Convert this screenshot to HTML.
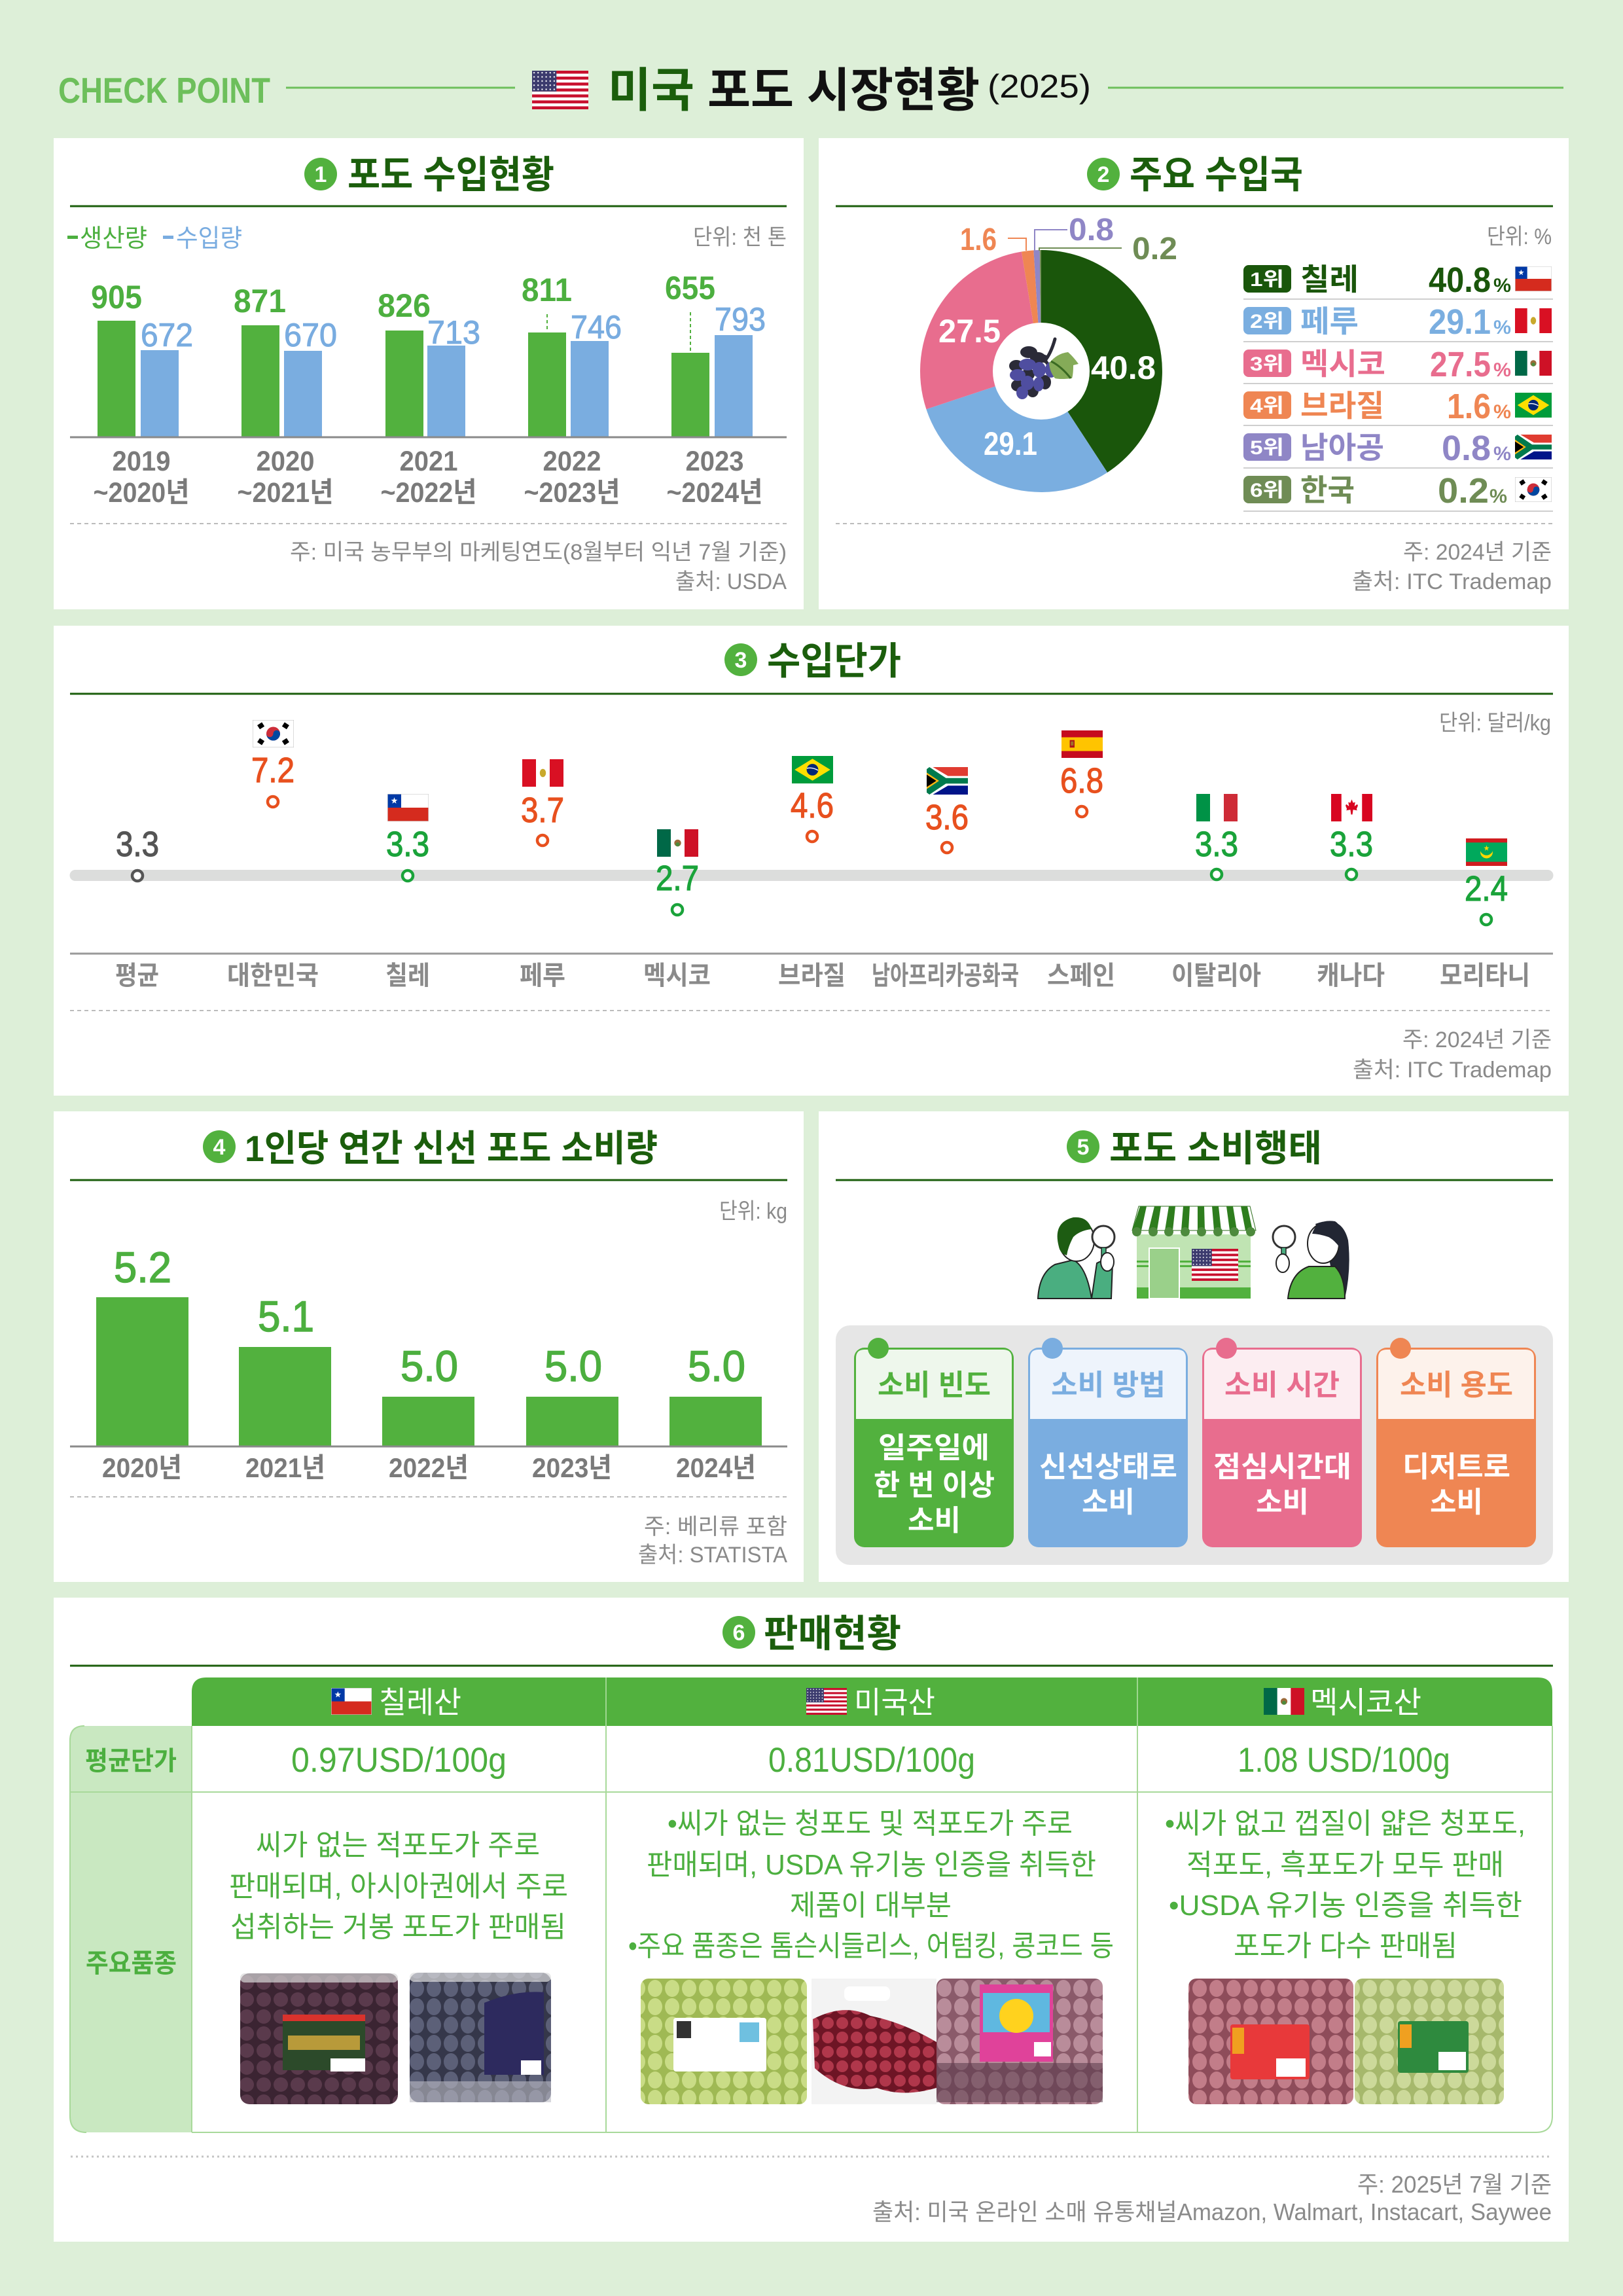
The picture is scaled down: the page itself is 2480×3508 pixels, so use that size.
<!DOCTYPE html>
<html><head><meta charset="utf-8"><style>
html,body{margin:0;padding:0;background:#ddefd8;}
svg{display:block;}
text{font-family:"Liberation Sans","Noto Sans CJK KR",sans-serif;}
.b{font-weight:700;}
</style></head><body>
<svg width="2480" height="3508" viewBox="0 0 2480 3508" xmlns="http://www.w3.org/2000/svg">
<defs>
<pattern id="stars" width="4.3" height="4.3" patternUnits="userSpaceOnUse"><circle cx="2.15" cy="2.15" r="0.8" fill="#fff"/></pattern>
<symbol id="fUS" viewBox="0 0 60 40" preserveAspectRatio="none">
<rect width="60" height="40" fill="#fff"/>
<g fill="#c8102e"><rect y="0" width="60" height="3.08"/><rect y="6.15" width="60" height="3.08"/><rect y="12.3" width="60" height="3.08"/><rect y="18.46" width="60" height="3.08"/><rect y="24.6" width="60" height="3.08"/><rect y="30.77" width="60" height="3.08"/><rect y="36.92" width="60" height="3.08"/></g>
<rect width="26" height="21.5" fill="#3c3b6e"/><rect width="26" height="21.5" fill="url(#stars)"/>
</symbol>
<symbol id="fCL" viewBox="0 0 60 40" preserveAspectRatio="none">
<rect width="60" height="20" fill="#fff"/><rect y="20" width="60" height="20" fill="#d52b1e"/><rect width="20" height="20" fill="#0039a6"/>
<polygon points="10,5 11.18,8.38 14.76,8.45 11.9,10.62 12.94,14.05 10,12 7.06,14.05 8.1,10.62 5.24,8.45 8.82,8.38" fill="#fff"/>
<rect x="0.3" y="0.3" width="59.4" height="39.4" fill="none" stroke="#ccc" stroke-width="0.6"/>
</symbol>
<symbol id="fPE" viewBox="0 0 60 40" preserveAspectRatio="none">
<rect width="60" height="40" fill="#fff"/><rect width="20" height="40" fill="#d91023"/><rect x="40" width="20" height="40" fill="#d91023"/><ellipse cx="30" cy="20" rx="4.5" ry="6" fill="#c9a92c"/>
</symbol>
<symbol id="fMX" viewBox="0 0 60 40" preserveAspectRatio="none">
<rect width="60" height="40" fill="#fff"/><rect width="20" height="40" fill="#006847"/><rect x="40" width="20" height="40" fill="#ce1126"/><circle cx="30" cy="20" r="5" fill="#9a6b3a"/><circle cx="30" cy="22" r="3" fill="#4c8a3c"/>
</symbol>
<symbol id="fBR" viewBox="0 0 60 40" preserveAspectRatio="none">
<rect width="60" height="40" fill="#009c3b"/><polygon points="30,4 56,20 30,36 4,20" fill="#fedf00"/><circle cx="30" cy="20" r="8.5" fill="#002776"/><path d="M21.8,18 Q30,16 38.2,21" stroke="#fff" stroke-width="1.4" fill="none"/>
</symbol>
<symbol id="fZA" viewBox="0 0 60 40" preserveAspectRatio="none">
<rect width="60" height="20" fill="#e03c31"/><rect y="20" width="60" height="20" fill="#001489"/>
<polygon points="0,0 9,0 31,13 60,13 60,27 31,27 9,40 0,40" fill="#fff"/>
<polygon points="0,3 4,0 28,16 60,16 60,24 28,24 4,40 0,37" fill="#007a4d"/>
<polygon points="0,8 18,20 0,32" fill="#ffb612"/><polygon points="0,11 14,20 0,29" fill="#000"/>
</symbol>
<symbol id="fKR" viewBox="0 0 60 40" preserveAspectRatio="none">
<rect width="60" height="40" fill="#fff" stroke="#bbb" stroke-width="1"/>
<circle cx="30" cy="20" r="10" fill="#cd2e3a"/><path d="M20,20 A10,10 0 0 0 40,20 Z" fill="#0047a0"/><circle cx="25" cy="20" r="5" fill="#cd2e3a"/><circle cx="35" cy="20" r="5" fill="#0047a0"/>
<g fill="#000"><rect x="8" y="5" width="8" height="7" transform="rotate(-33 12 8.5)"/><rect x="44" y="5" width="8" height="7" transform="rotate(33 48 8.5)"/><rect x="8" y="28" width="8" height="7" transform="rotate(33 12 31.5)"/><rect x="44" y="28" width="8" height="7" transform="rotate(-33 48 31.5)"/></g>
</symbol>
<symbol id="fES" viewBox="0 0 60 40" preserveAspectRatio="none">
<rect width="60" height="40" fill="#c60b1e"/><rect y="10" width="60" height="20" fill="#ffc400"/><rect x="12" y="14" width="7" height="11" fill="#ad1519"/><rect x="13.5" y="16" width="4" height="6" fill="#a0702a"/>
</symbol>
<symbol id="fIT" viewBox="0 0 60 40" preserveAspectRatio="none">
<rect width="60" height="40" fill="#fff"/><rect width="20" height="40" fill="#009246"/><rect x="40" width="20" height="40" fill="#ce2b37"/>
</symbol>
<symbol id="fCA" viewBox="0 0 60 40" preserveAspectRatio="none">
<rect width="60" height="40" fill="#fff"/><rect width="15" height="40" fill="#d80621"/><rect x="45" width="15" height="40" fill="#d80621"/>
<polygon points="30,8 32,13 35,12 34,18 38,15 39,17 37,22 38,24 32,23 31,30 29,30 28,23 22,24 23,22 21,17 22,15 26,18 25,12 28,13" fill="#d80621"/>
</symbol>
<symbol id="fMR" viewBox="0 0 60 40" preserveAspectRatio="none">
<rect width="60" height="40" fill="#d01c1f"/><rect y="6" width="60" height="28" fill="#00a95c"/><circle cx="30" cy="20" r="9" fill="#ffd700"/><circle cx="30" cy="15" r="9.5" fill="#00a95c"/>
<polygon points="30,10 31,13 34,13 31.5,15 32.5,18 30,16 27.5,18 28.5,15 26,13 29,13" fill="#ffd700"/>
</symbol>
<pattern id="pDark" width="26" height="26" patternUnits="userSpaceOnUse"><rect width="26" height="26" fill="#3b2432"/><circle cx="13" cy="13" r="11" fill="#5a3a4c"/></pattern>
<pattern id="pBlue" width="26" height="28" patternUnits="userSpaceOnUse"><rect width="26" height="28" fill="#35374a"/><ellipse cx="13" cy="14" rx="11" ry="13" fill="#5c6078"/></pattern>
<pattern id="pGreen" width="26" height="28" patternUnits="userSpaceOnUse"><rect width="26" height="28" fill="#9fb954"/><ellipse cx="13" cy="14" rx="11" ry="13" fill="#c9dc86"/></pattern>
<pattern id="pPink" width="26" height="28" patternUnits="userSpaceOnUse"><rect width="26" height="28" fill="#8a5a6a"/><ellipse cx="13" cy="14" rx="11" ry="13" fill="#b98c9a"/></pattern>
<pattern id="pRed" width="26" height="28" patternUnits="userSpaceOnUse"><rect width="26" height="28" fill="#8e4c5a"/><ellipse cx="13" cy="14" rx="11" ry="13" fill="#c27d89"/></pattern>
<pattern id="pPale" width="26" height="28" patternUnits="userSpaceOnUse"><rect width="26" height="28" fill="#a6b86c"/><ellipse cx="13" cy="14" rx="11" ry="13" fill="#ccd99a"/></pattern>
<pattern id="pBag" width="22" height="22" patternUnits="userSpaceOnUse"><rect width="22" height="22" fill="#6e1525"/><circle cx="11" cy="11" r="9" fill="#b0374b"/></pattern>
</defs>

<rect width="2480" height="3508" fill="#ddefd8"/>

<!-- HEADER -->
<text x="89" y="157" font-size="55" class="b" fill="#6dbf5b" textLength="324" lengthAdjust="spacingAndGlyphs">CHECK POINT</text>
<line x1="437" y1="134" x2="787" y2="134" stroke="#6dbf5b" stroke-width="3"/>
<use href="#fUS" x="813" y="108" width="86" height="59"/>
<text x="929" y="163" font-size="72" class="b" textLength="568" lengthAdjust="spacingAndGlyphs"><tspan fill="#1b5e0c">미국</tspan><tspan fill="#111"> 포도 시장현황</tspan></text>
<text x="1509" y="149" font-size="50" fill="#111" textLength="158" lengthAdjust="spacingAndGlyphs">(2025)</text>
<line x1="1693" y1="134" x2="2389" y2="134" stroke="#6dbf5b" stroke-width="3"/>

<!-- PANELS -->
<rect x="82" y="211" width="1146" height="720" fill="#fff"/>
<rect x="1251" y="211" width="1146" height="720" fill="#fff"/>
<rect x="82" y="956" width="2315" height="718" fill="#fff"/>
<rect x="82" y="1698" width="1146" height="719" fill="#fff"/>
<rect x="1251" y="1698" width="1146" height="719" fill="#fff"/>
<rect x="82" y="2441" width="2315" height="984" fill="#fff"/>

<!-- PANEL TITLES -->
<g>
<circle cx="490" cy="266" r="25" fill="#52b13e"/><text x="490" y="278" font-size="34" class="b" fill="#fff" text-anchor="middle">1</text>
<text x="531" y="287" font-size="58" class="b" fill="#1b5e0c" textLength="316" lengthAdjust="spacingAndGlyphs">포도 수입현황</text>
<line x1="107" y1="315" x2="1202" y2="315" stroke="#1b5e0c" stroke-width="3"/>

<circle cx="1686" cy="266" r="25" fill="#52b13e"/><text x="1686" y="278" font-size="34" class="b" fill="#fff" text-anchor="middle">2</text>
<text x="1726" y="287" font-size="58" class="b" fill="#1b5e0c" textLength="265" lengthAdjust="spacingAndGlyphs">주요 수입국</text>
<line x1="1277" y1="315" x2="2373" y2="315" stroke="#1b5e0c" stroke-width="3"/>

<circle cx="1132" cy="1008" r="25" fill="#52b13e"/><text x="1132" y="1020" font-size="34" class="b" fill="#fff" text-anchor="middle">3</text>
<text x="1172" y="1030" font-size="58" class="b" fill="#1b5e0c" textLength="205" lengthAdjust="spacingAndGlyphs">수입단가</text>
<line x1="107" y1="1060" x2="2373" y2="1060" stroke="#1b5e0c" stroke-width="3"/>

<circle cx="335" cy="1752" r="25" fill="#52b13e"/><text x="335" y="1764" font-size="34" class="b" fill="#fff" text-anchor="middle">4</text>
<text x="374" y="1774" font-size="56" class="b" fill="#1b5e0c" textLength="631" lengthAdjust="spacingAndGlyphs">1인당 연간 신선 포도 소비량</text>
<line x1="107" y1="1803" x2="1203" y2="1803" stroke="#1b5e0c" stroke-width="3"/>

<circle cx="1655" cy="1752" r="25" fill="#52b13e"/><text x="1655" y="1764" font-size="34" class="b" fill="#fff" text-anchor="middle">5</text>
<text x="1695" y="1774" font-size="56" class="b" fill="#1b5e0c" textLength="325" lengthAdjust="spacingAndGlyphs">포도 소비행태</text>
<line x1="1277" y1="1803" x2="2373" y2="1803" stroke="#1b5e0c" stroke-width="3"/>

<circle cx="1129" cy="2494" r="25" fill="#52b13e"/><text x="1129" y="2506" font-size="34" class="b" fill="#fff" text-anchor="middle">6</text>
<text x="1167" y="2516" font-size="58" class="b" fill="#1b5e0c" textLength="210" lengthAdjust="spacingAndGlyphs">판매현황</text>
<line x1="107" y1="2545" x2="2373" y2="2545" stroke="#1b5e0c" stroke-width="3"/>
</g>

<!-- SECTION 1 -->
<rect x="103" y="360" width="16" height="5" fill="#4caf3f"/>
<text x="122" y="377" font-size="38" fill="#4caf3f" textLength="103" lengthAdjust="spacingAndGlyphs">생산량</text>
<rect x="249" y="360" width="16" height="5" fill="#79ace0"/>
<text x="269" y="377" font-size="38" fill="#79ace0" textLength="101" lengthAdjust="spacingAndGlyphs">수입량</text>
<text x="1059" y="374" font-size="34" fill="#8a8a8a" textLength="143" lengthAdjust="spacingAndGlyphs">단위: 천 톤</text>

<g fill="#52b13e">
<rect x="149" y="490" width="58" height="178"/><rect x="369" y="497" width="58" height="171"/><rect x="589" y="505" width="58" height="163"/><rect x="807" y="508" width="58" height="160"/><rect x="1026" y="539" width="58" height="129"/>
</g>
<g fill="#7aade0">
<rect x="215" y="535" width="58" height="133"/><rect x="434" y="536" width="58" height="132"/><rect x="653" y="528" width="58" height="140"/><rect x="872" y="521" width="58" height="147"/><rect x="1092" y="512" width="58" height="156"/>
</g>
<line x1="107" y1="668" x2="1202" y2="668" stroke="#8a8a8a" stroke-width="3"/>
<line x1="836" y1="480" x2="836" y2="507" stroke="#52b13e" stroke-width="2" stroke-dasharray="5 4"/>
<line x1="1055" y1="477" x2="1055" y2="537" stroke="#52b13e" stroke-width="2" stroke-dasharray="5 4"/>
<g font-size="50" class="b" fill="#4caf3f">
<text x="139" y="471" textLength="78" lengthAdjust="spacingAndGlyphs">905</text>
<text x="357" y="477" textLength="80" lengthAdjust="spacingAndGlyphs">871</text>
<text x="577" y="484" textLength="81" lengthAdjust="spacingAndGlyphs">826</text>
<text x="797" y="460" textLength="77" lengthAdjust="spacingAndGlyphs">811</text>
<text x="1016" y="457" textLength="77" lengthAdjust="spacingAndGlyphs">655</text>
</g>
<g font-size="50" fill="#79ace0" stroke="#79ace0" stroke-width="1">
<text x="215" y="529" textLength="80" lengthAdjust="spacingAndGlyphs">672</text>
<text x="434" y="529" textLength="81" lengthAdjust="spacingAndGlyphs">670</text>
<text x="653" y="525" textLength="81" lengthAdjust="spacingAndGlyphs">713</text>
<text x="872" y="517" textLength="78" lengthAdjust="spacingAndGlyphs">746</text>
<text x="1092" y="505" textLength="78" lengthAdjust="spacingAndGlyphs">793</text>
</g>
<g font-size="43" class="b" fill="#7a7a7a">
<text x="171.5" y="719" textLength="89" lengthAdjust="spacingAndGlyphs">2019</text>
<text x="391.5" y="719" textLength="89" lengthAdjust="spacingAndGlyphs">2020</text>
<text x="610.5" y="719" textLength="89" lengthAdjust="spacingAndGlyphs">2021</text>
<text x="829.5" y="719" textLength="89" lengthAdjust="spacingAndGlyphs">2022</text>
<text x="1047.5" y="719" textLength="89" lengthAdjust="spacingAndGlyphs">2023</text>
<text x="142.5" y="767" textLength="147" lengthAdjust="spacingAndGlyphs">~2020년</text>
<text x="362.5" y="767" textLength="147" lengthAdjust="spacingAndGlyphs">~2021년</text>
<text x="581.5" y="767" textLength="147" lengthAdjust="spacingAndGlyphs">~2022년</text>
<text x="800.5" y="767" textLength="147" lengthAdjust="spacingAndGlyphs">~2023년</text>
<text x="1018.5" y="767" textLength="147" lengthAdjust="spacingAndGlyphs">~2024년</text>
</g>
<line x1="107" y1="800" x2="1202" y2="800" stroke="#bbb" stroke-width="2" stroke-dasharray="6 5"/>
<text x="443" y="855" font-size="34" fill="#8a8a8a" textLength="759" lengthAdjust="spacingAndGlyphs">주: 미국 농무부의 마케팅연도(8월부터 익년 7월 기준)</text>
<text x="1032" y="900" font-size="34" fill="#8a8a8a" textLength="170" lengthAdjust="spacingAndGlyphs">출처: USDA</text>

<!-- SECTION 2 -->
<path d="M1591,567 L1591,382 A185,185 0 0 1 1692.1,721.9 Z" fill="#1a560b"/>
<path d="M1591,567 L1692.1,721.9 A185,185 0 0 1 1415.4,625.3 Z" fill="#7aaee0"/>
<path d="M1591,567 L1415.4,625.3 A185,185 0 0 1 1560.9,384.5 Z" fill="#e86d8e"/>
<path d="M1591,567 L1560.9,384.5 A185,185 0 0 1 1579.4,382.4 Z" fill="#ef8653"/>
<path d="M1591,567 L1579.4,382.4 A185,185 0 0 1 1588.7,382 Z" fill="#8f86c6"/>
<path d="M1591,567 L1588.7,382 A185,185 0 0 1 1591,382 Z" fill="#6f8c55"/>
<circle cx="1591" cy="567" r="74" fill="#fff"/>
<!-- grape icon -->
<path d="M1612,518 Q1606,540 1596,552 M1600,546 Q1585,540 1572,538 M1598,552 Q1604,560 1606,566" stroke="#2b2b38" stroke-width="5" fill="none" stroke-linecap="round"/>
<g fill="#2b2b38">
<ellipse cx="1572" cy="538" rx="13" ry="9"/><ellipse cx="1586" cy="547" rx="12" ry="9"/><ellipse cx="1553" cy="559" rx="11" ry="9"/><ellipse cx="1555" cy="589" rx="10" ry="9"/><ellipse cx="1578" cy="597" rx="9" ry="10"/><ellipse cx="1597" cy="584" rx="9" ry="11"/><ellipse cx="1571" cy="572" rx="10" ry="9"/>
</g>
<g fill="#4f4ea0">
<ellipse cx="1570" cy="557" rx="13" ry="9"/><ellipse cx="1555" cy="573" rx="12" ry="9"/><ellipse cx="1588" cy="565" rx="10" ry="12"/><ellipse cx="1606" cy="565" rx="9" ry="12"/><ellipse cx="1570" cy="585" rx="10" ry="11"/><ellipse cx="1587" cy="587" rx="8" ry="11"/><ellipse cx="1562" cy="600" rx="9" ry="10"/>
</g>
<path d="M1603,555 Q1615,540 1632,538 Q1640,545 1648,556 L1640,558 Q1640,572 1638,578 Q1620,580 1612,578 Q1604,568 1603,555 Z" fill="#85ab58"/>
<path d="M1606,552 Q1622,560 1636,578" stroke="#3a6a22" stroke-width="3" fill="none"/>
<g font-size="50" class="b" fill="#fff">
<text x="1667" y="579" textLength="99" lengthAdjust="spacingAndGlyphs">40.8</text>
<text x="1503" y="695" textLength="82" lengthAdjust="spacingAndGlyphs">29.1</text>
<text x="1434" y="523" textLength="95" lengthAdjust="spacingAndGlyphs">27.5</text>
</g>
<polyline points="1540,364 1568,364 1568,383" fill="none" stroke="#ef8653" stroke-width="2"/>
<polyline points="1631,351 1581,351 1581,383" fill="none" stroke="#8f86c6" stroke-width="2"/>
<polyline points="1714,379 1588,379 1588,383" fill="none" stroke="#6f8c55" stroke-width="2"/>
<text x="1467" y="382" font-size="48" class="b" fill="#ef8653" textLength="56" lengthAdjust="spacingAndGlyphs">1.6</text>
<text x="1633" y="367" font-size="48" class="b" fill="#8f86c6" textLength="69" lengthAdjust="spacingAndGlyphs">0.8</text>
<text x="1730" y="396" font-size="48" class="b" fill="#6f8c55" textLength="69" lengthAdjust="spacingAndGlyphs">0.2</text>

<text x="2272" y="373" font-size="34" fill="#8a8a8a" textLength="99" lengthAdjust="spacingAndGlyphs">단위: %</text>
<g stroke="#cfcfcf" stroke-width="2">
<line x1="1900" y1="457" x2="2373" y2="457"/><line x1="1900" y1="522" x2="2373" y2="522"/><line x1="1900" y1="586" x2="2373" y2="586"/><line x1="1900" y1="650" x2="2373" y2="650"/><line x1="1900" y1="715" x2="2373" y2="715"/><line x1="1900" y1="781" x2="2373" y2="781"/>
</g>
<!-- rows -->
<g>
<rect x="1900" y="405" width="73" height="42" rx="8" fill="#1a560b"/><text x="1910" y="437" font-size="30" class="b" fill="#fff" textLength="52" lengthAdjust="spacingAndGlyphs">1위</text>
<text x="1987" y="443" font-size="46" class="b" fill="#1a560b" textLength="89" lengthAdjust="spacingAndGlyphs">칠레</text>
<text x="2183" y="446" font-size="54" class="b" fill="#1a560b" textLength="95" lengthAdjust="spacingAndGlyphs">40.8</text><text x="2282" y="446" font-size="30" class="b" fill="#1a560b" textLength="27" lengthAdjust="spacingAndGlyphs">%</text>
<use href="#fCL" x="2315" y="407" width="56" height="38"/>

<rect x="1900" y="469" width="73" height="42" rx="8" fill="#7aaee0"/><text x="1910" y="501" font-size="30" class="b" fill="#fff" textLength="52" lengthAdjust="spacingAndGlyphs">2위</text>
<text x="1987" y="507" font-size="46" class="b" fill="#7aaee0" textLength="89" lengthAdjust="spacingAndGlyphs">페루</text>
<text x="2183" y="510" font-size="54" class="b" fill="#7aaee0" textLength="95" lengthAdjust="spacingAndGlyphs">29.1</text><text x="2282" y="510" font-size="30" class="b" fill="#7aaee0" textLength="27" lengthAdjust="spacingAndGlyphs">%</text>
<use href="#fPE" x="2315" y="471" width="56" height="38"/>

<rect x="1900" y="534" width="73" height="42" rx="8" fill="#e86d8e"/><text x="1910" y="566" font-size="30" class="b" fill="#fff" textLength="52" lengthAdjust="spacingAndGlyphs">3위</text>
<text x="1987" y="572" font-size="46" class="b" fill="#e86d8e" textLength="130" lengthAdjust="spacingAndGlyphs">멕시코</text>
<text x="2185" y="575" font-size="54" class="b" fill="#e86d8e" textLength="93" lengthAdjust="spacingAndGlyphs">27.5</text><text x="2282" y="575" font-size="30" class="b" fill="#e86d8e" textLength="27" lengthAdjust="spacingAndGlyphs">%</text>
<use href="#fMX" x="2315" y="536" width="56" height="38"/>

<rect x="1900" y="598" width="73" height="42" rx="8" fill="#ef8653"/><text x="1910" y="630" font-size="30" class="b" fill="#fff" textLength="52" lengthAdjust="spacingAndGlyphs">4위</text>
<text x="1987" y="636" font-size="46" class="b" fill="#ef8653" textLength="128" lengthAdjust="spacingAndGlyphs">브라질</text>
<text x="2211" y="639" font-size="54" class="b" fill="#ef8653" textLength="67" lengthAdjust="spacingAndGlyphs">1.6</text><text x="2282" y="639" font-size="30" class="b" fill="#ef8653" textLength="27" lengthAdjust="spacingAndGlyphs">%</text>
<use href="#fBR" x="2315" y="600" width="56" height="38"/>

<rect x="1900" y="662" width="73" height="42" rx="8" fill="#8f86c6"/><text x="1910" y="694" font-size="30" class="b" fill="#fff" textLength="52" lengthAdjust="spacingAndGlyphs">5위</text>
<text x="1987" y="700" font-size="46" class="b" fill="#8f86c6" textLength="128" lengthAdjust="spacingAndGlyphs">남아공</text>
<text x="2203" y="703" font-size="54" class="b" fill="#8f86c6" textLength="75" lengthAdjust="spacingAndGlyphs">0.8</text><text x="2282" y="703" font-size="30" class="b" fill="#8f86c6" textLength="27" lengthAdjust="spacingAndGlyphs">%</text>
<use href="#fZA" x="2315" y="664" width="56" height="38"/>

<rect x="1900" y="727" width="73" height="42" rx="8" fill="#6f8c55"/><text x="1910" y="759" font-size="30" class="b" fill="#fff" textLength="52" lengthAdjust="spacingAndGlyphs">6위</text>
<text x="1987" y="765" font-size="46" class="b" fill="#6f8c55" textLength="83" lengthAdjust="spacingAndGlyphs">한국</text>
<text x="2197" y="768" font-size="54" class="b" fill="#6f8c55" textLength="78" lengthAdjust="spacingAndGlyphs">0.2</text><text x="2276" y="768" font-size="30" class="b" fill="#6f8c55" textLength="27" lengthAdjust="spacingAndGlyphs">%</text>
<use href="#fKR" x="2315" y="729" width="56" height="38"/>
</g>
<line x1="1277" y1="800" x2="2373" y2="800" stroke="#bbb" stroke-width="2" stroke-dasharray="6 5"/>
<text x="2144" y="855" font-size="34" fill="#8a8a8a" textLength="227" lengthAdjust="spacingAndGlyphs">주: 2024년 기준</text>
<text x="2066" y="900" font-size="34" fill="#8a8a8a" textLength="305" lengthAdjust="spacingAndGlyphs">출처: ITC Trademap</text>

<!-- SECTION 3 -->
<text x="2199" y="1116" font-size="34" fill="#8a8a8a" textLength="171" lengthAdjust="spacingAndGlyphs">단위: 달러/kg</text>
<line x1="115" y1="1337.5" x2="2365" y2="1337.5" stroke="#dcdddc" stroke-width="17" stroke-linecap="round"/>
<line x1="107" y1="1457" x2="2373" y2="1457" stroke="#9a9a9a" stroke-width="3"/>
<g>
<use href="#fKR" x="386" y="1100" width="63" height="42"/>
<use href="#fCL" x="592" y="1213" width="63" height="42"/>
<use href="#fPE" x="798" y="1160" width="63" height="42"/>
<use href="#fMX" x="1004" y="1267" width="63" height="42"/>
<use href="#fBR" x="1210" y="1155" width="63" height="42"/>
<use href="#fZA" x="1416" y="1172" width="63" height="42"/>
<use href="#fES" x="1622" y="1116" width="63" height="42"/>
<use href="#fIT" x="1828" y="1213" width="63" height="42"/>
<use href="#fCA" x="2034" y="1213" width="63" height="42"/>
<use href="#fMR" x="2240" y="1281" width="63" height="42"/>
</g>
<g font-size="54">
<text x="177" y="1308" fill="#555" stroke="#555" stroke-width="1.2" textLength="66" lengthAdjust="spacingAndGlyphs">3.3</text>
<text x="384" y="1195" fill="#e8501e" stroke="#e8501e" stroke-width="1.2" textLength="66" lengthAdjust="spacingAndGlyphs">7.2</text>
<text x="590" y="1308" fill="#1aa33a" stroke="#1aa33a" stroke-width="1.2" textLength="66" lengthAdjust="spacingAndGlyphs">3.3</text>
<text x="796" y="1256" fill="#e8501e" stroke="#e8501e" stroke-width="1.2" textLength="66" lengthAdjust="spacingAndGlyphs">3.7</text>
<text x="1002" y="1360" fill="#1aa33a" stroke="#1aa33a" stroke-width="1.2" textLength="66" lengthAdjust="spacingAndGlyphs">2.7</text>
<text x="1208" y="1249" fill="#e8501e" stroke="#e8501e" stroke-width="1.2" textLength="66" lengthAdjust="spacingAndGlyphs">4.6</text>
<text x="1414" y="1267" fill="#e8501e" stroke="#e8501e" stroke-width="1.2" textLength="66" lengthAdjust="spacingAndGlyphs">3.6</text>
<text x="1620" y="1211" fill="#e8501e" stroke="#e8501e" stroke-width="1.2" textLength="66" lengthAdjust="spacingAndGlyphs">6.8</text>
<text x="1826" y="1308" fill="#1aa33a" stroke="#1aa33a" stroke-width="1.2" textLength="66" lengthAdjust="spacingAndGlyphs">3.3</text>
<text x="2032" y="1308" fill="#1aa33a" stroke="#1aa33a" stroke-width="1.2" textLength="66" lengthAdjust="spacingAndGlyphs">3.3</text>
<text x="2238" y="1376" fill="#1aa33a" stroke="#1aa33a" stroke-width="1.2" textLength="66" lengthAdjust="spacingAndGlyphs">2.4</text>
</g>
<g fill="#fff" stroke-width="4.5">
<circle cx="210" cy="1338" r="8" stroke="#555"/>
<circle cx="417" cy="1225" r="8" stroke="#e8501e"/>
<circle cx="623" cy="1338" r="8" stroke="#1aa33a"/>
<circle cx="829" cy="1284" r="8" stroke="#e8501e"/>
<circle cx="1035" cy="1390" r="8" stroke="#1aa33a"/>
<circle cx="1241" cy="1278" r="8" stroke="#e8501e"/>
<circle cx="1447" cy="1295" r="8" stroke="#e8501e"/>
<circle cx="1653" cy="1240" r="8" stroke="#e8501e"/>
<circle cx="1859" cy="1336" r="8" stroke="#1aa33a"/>
<circle cx="2065" cy="1336" r="8" stroke="#1aa33a"/>
<circle cx="2271" cy="1405" r="8" stroke="#1aa33a"/>
</g>
<g font-size="40" class="b" fill="#8a8a8a">
<text x="176" y="1504" textLength="67" lengthAdjust="spacingAndGlyphs">평균</text>
<text x="347" y="1504" textLength="140" lengthAdjust="spacingAndGlyphs">대한민국</text>
<text x="589" y="1504" textLength="68" lengthAdjust="spacingAndGlyphs">칠레</text>
<text x="794" y="1504" textLength="70" lengthAdjust="spacingAndGlyphs">페루</text>
<text x="983" y="1504" textLength="103" lengthAdjust="spacingAndGlyphs">멕시코</text>
<text x="1189" y="1504" textLength="103" lengthAdjust="spacingAndGlyphs">브라질</text>
<text x="1332" y="1504" textLength="225" lengthAdjust="spacingAndGlyphs">남아프리카공화국</text>
<text x="1600" y="1504" textLength="104" lengthAdjust="spacingAndGlyphs">스페인</text>
<text x="1790" y="1504" textLength="137" lengthAdjust="spacingAndGlyphs">이탈리아</text>
<text x="2012" y="1504" textLength="104" lengthAdjust="spacingAndGlyphs">캐나다</text>
<text x="2200" y="1504" textLength="138" lengthAdjust="spacingAndGlyphs">모리타니</text>
</g>
<line x1="107" y1="1544" x2="2373" y2="1544" stroke="#bbb" stroke-width="2" stroke-dasharray="6 5"/>
<text x="2143" y="1600" font-size="34" fill="#8a8a8a" textLength="228" lengthAdjust="spacingAndGlyphs">주: 2024년 기준</text>
<text x="2067" y="1646" font-size="34" fill="#8a8a8a" textLength="304" lengthAdjust="spacingAndGlyphs">출처: ITC Trademap</text>

<!-- SECTION 4 -->
<text x="1099" y="1862" font-size="34" fill="#8a8a8a" textLength="104" lengthAdjust="spacingAndGlyphs">단위: kg</text>
<g fill="#52b13e">
<rect x="147" y="1982" width="141" height="228"/><rect x="365" y="2058" width="141" height="152"/><rect x="584" y="2134" width="141" height="76"/><rect x="804" y="2134" width="141" height="76"/><rect x="1023" y="2134" width="141" height="76"/>
</g>
<line x1="107" y1="2210" x2="1203" y2="2210" stroke="#8a8a8a" stroke-width="3"/>
<g font-size="66" fill="#4caf3f" stroke="#4caf3f" stroke-width="1.5">
<text x="174" y="1959" textLength="88" lengthAdjust="spacingAndGlyphs">5.2</text>
<text x="394" y="2034" textLength="86" lengthAdjust="spacingAndGlyphs">5.1</text>
<text x="612" y="2110" textLength="88" lengthAdjust="spacingAndGlyphs">5.0</text>
<text x="832" y="2110" textLength="88" lengthAdjust="spacingAndGlyphs">5.0</text>
<text x="1051" y="2110" textLength="88" lengthAdjust="spacingAndGlyphs">5.0</text>
</g>
<g font-size="42" class="b" fill="#7a7a7a">
<text x="156" y="2257" textLength="122" lengthAdjust="spacingAndGlyphs">2020년</text>
<text x="375" y="2257" textLength="122" lengthAdjust="spacingAndGlyphs">2021년</text>
<text x="594" y="2257" textLength="122" lengthAdjust="spacingAndGlyphs">2022년</text>
<text x="813" y="2257" textLength="122" lengthAdjust="spacingAndGlyphs">2023년</text>
<text x="1033" y="2257" textLength="122" lengthAdjust="spacingAndGlyphs">2024년</text>
</g>
<line x1="107" y1="2287" x2="1203" y2="2287" stroke="#bbb" stroke-width="2" stroke-dasharray="6 5"/>
<text x="984" y="2344" font-size="34" fill="#8a8a8a" textLength="219" lengthAdjust="spacingAndGlyphs">주: 베리류 포함</text>
<text x="975" y="2387" font-size="34" fill="#8a8a8a" textLength="228" lengthAdjust="spacingAndGlyphs">출처: STATISTA</text>

<!-- SECTION 5 illustration -->
<g>
<!-- store -->
<rect x="1737" y="1886" width="174" height="98" fill="#c0e4b3"/>
<rect x="1737" y="1926" width="174" height="3" fill="#52b13e"/><rect x="1737" y="1933" width="174" height="3" fill="#52b13e"/>
<rect x="1737" y="1967" width="174" height="17" fill="#52b13e"/>
<rect x="1756" y="1907" width="46" height="77" fill="#9ad08a" stroke="#fff" stroke-width="2"/>
<use href="#fUS" x="1821" y="1908" width="71" height="49"/>
<polygon points="1740,1843 1910,1843 1919,1880 1730,1880" fill="#fff" stroke="#2e6e1e" stroke-width="1"/>
<g fill="#2e7d1e">
<polygon points="1742,1843 1752,1843 1744,1880 1730,1880"/>
<polygon points="1764,1843 1774,1843 1768,1880 1755,1880"/>
<polygon points="1786,1843 1796,1843 1792,1880 1780,1880"/>
<polygon points="1808,1843 1818,1843 1816,1880 1805,1880"/>
<polygon points="1830,1843 1840,1843 1841,1880 1830,1880"/>
<polygon points="1852,1843 1862,1843 1866,1880 1855,1880"/>
<polygon points="1874,1843 1884,1843 1890,1880 1879,1880"/>
<polygon points="1896,1843 1906,1843 1914,1880 1903,1880"/>
</g>
<g fill="#4d8a3d"><circle cx="1737" cy="1882" r="7"/><circle cx="1762" cy="1882" r="7"/><circle cx="1786" cy="1882" r="7"/><circle cx="1811" cy="1882" r="7"/><circle cx="1836" cy="1882" r="7"/><circle cx="1861" cy="1882" r="7"/><circle cx="1886" cy="1882" r="7"/><circle cx="1911" cy="1882" r="7"/></g>
<!-- left person -->
<path d="M1586,1984 Q1588,1945 1612,1932 L1640,1925 Q1660,1935 1668,1984 Z" fill="#4aae80" stroke="#222" stroke-width="2"/>
<path d="M1668,1984 L1676,1930 Q1690,1922 1700,1930 L1698,1984 Z" fill="#4aae80" stroke="#222" stroke-width="2"/>
<ellipse cx="1645" cy="1895" rx="27" ry="32" fill="#fff" stroke="#222" stroke-width="2"/>
<path d="M1618,1905 Q1608,1868 1640,1860 Q1662,1858 1668,1878 Q1650,1880 1640,1890 Q1632,1905 1630,1918 Q1620,1915 1618,1905 Z" fill="#1d5c12"/>
<circle cx="1686" cy="1890" r="17" fill="#fff" stroke="#333" stroke-width="3"/>
<rect x="1683" y="1906" width="7" height="14" fill="#4aae80" stroke="#222" stroke-width="1.5"/>
<ellipse cx="1692" cy="1928" rx="10" ry="14" fill="#fff" stroke="#222" stroke-width="2"/>
<!-- right person -->
<path d="M2010,1870 Q2050,1855 2060,1895 Q2065,1940 2055,1984 L2040,1984 Q2035,1940 2030,1920 Z" fill="#222633"/>
<path d="M1968,1984 Q1972,1945 2000,1935 L2040,1935 Q2055,1950 2055,1984 Z" fill="#52b13e" stroke="#222" stroke-width="2"/>
<ellipse cx="2022" cy="1900" rx="24" ry="30" fill="#fff" stroke="#222" stroke-width="2"/>
<path d="M2005,1885 Q2012,1862 2040,1866 Q2055,1875 2050,1910 Q2040,1895 2030,1890 Q2015,1885 2005,1885 Z" fill="#222633"/>
<circle cx="1962" cy="1890" r="17" fill="#fff" stroke="#333" stroke-width="3"/>
<rect x="1958" y="1906" width="7" height="14" fill="#4aae80" stroke="#222" stroke-width="1.5"/>
<ellipse cx="1960" cy="1930" rx="10" ry="14" fill="#fff" stroke="#222" stroke-width="2"/>
</g>
<rect x="1277" y="2025" width="1096" height="366" rx="22" fill="#e6e6e6"/>
<!-- cards -->
<g>
<rect x="1305" y="2059" width="244" height="305" rx="16" fill="#52b13e"/>
<path d="M1308,2168 V2075 Q1308,2062 1321,2062 H1533 Q1546,2062 1546,2075 V2168 Z" fill="#eef7ec"/>
<circle cx="1342" cy="2060" r="16" fill="#52b13e"/>
<rect x="1571" y="2059" width="244" height="305" rx="16" fill="#7aade0"/>
<path d="M1574,2168 V2075 Q1574,2062 1587,2062 H1799 Q1812,2062 1812,2075 V2168 Z" fill="#eef4fc"/>
<circle cx="1608" cy="2060" r="16" fill="#7aade0"/>
<rect x="1837" y="2059" width="244" height="305" rx="16" fill="#e86d8e"/>
<path d="M1840,2168 V2075 Q1840,2062 1853,2062 H2065 Q2078,2062 2078,2075 V2168 Z" fill="#fcedf1"/>
<circle cx="1874" cy="2060" r="16" fill="#e86d8e"/>
<rect x="2103" y="2059" width="244" height="305" rx="16" fill="#ef8653"/>
<path d="M2106,2168 V2075 Q2106,2062 2119,2062 H2331 Q2344,2062 2344,2075 V2168 Z" fill="#fdf2eb"/>
<circle cx="2140" cy="2060" r="16" fill="#ef8653"/>
</g>
<g font-size="44" class="b">
<text x="1341" y="2131" fill="#52b13e" textLength="173" lengthAdjust="spacingAndGlyphs">소비 빈도</text>
<text x="1606" y="2131" fill="#7aade0" textLength="175" lengthAdjust="spacingAndGlyphs">소비 방법</text>
<text x="1871" y="2131" fill="#e86d8e" textLength="176" lengthAdjust="spacingAndGlyphs">소비 시간</text>
<text x="2139" y="2131" fill="#ef8653" textLength="173" lengthAdjust="spacingAndGlyphs">소비 용도</text>
</g>
<g font-size="44" class="b" fill="#fff">
<text x="1342" y="2227" textLength="170" lengthAdjust="spacingAndGlyphs">일주일에</text>
<text x="1335" y="2284" textLength="185" lengthAdjust="spacingAndGlyphs">한 번 이상</text>
<text x="1387" y="2338" textLength="81" lengthAdjust="spacingAndGlyphs">소비</text>
<text x="1588" y="2256" textLength="211" lengthAdjust="spacingAndGlyphs">신선상태로</text>
<text x="1653" y="2310" textLength="81" lengthAdjust="spacingAndGlyphs">소비</text>
<text x="1854" y="2256" textLength="211" lengthAdjust="spacingAndGlyphs">점심시간대</text>
<text x="1919" y="2310" textLength="81" lengthAdjust="spacingAndGlyphs">소비</text>
<text x="2143" y="2256" textLength="165" lengthAdjust="spacingAndGlyphs">디저트로</text>
<text x="2185" y="2310" textLength="81" lengthAdjust="spacingAndGlyphs">소비</text>
</g>

<!-- SECTION 6 table -->
<path d="M293,2637 L293,2585 Q293,2563 315,2563 L2350,2563 Q2372,2563 2372,2585 L2372,2637 Z" fill="#52b13e"/>
<path d="M293,2637 L129,2637 Q107,2637 107,2659 L107,3233 Q107,3258 132,3258 L293,3258 Z" fill="#c9e8c1"/>
<g stroke="#a8d99a" stroke-width="2" fill="none">
<path d="M293,3258 L2347,3258 Q2372,3258 2372,3233 L2372,2637"/>
<path d="M129,2637 Q107,2637 107,2659 L107,3233 Q107,3258 132,3258"/>
<line x1="107" y1="2738" x2="2372" y2="2738"/>
<line x1="293" y1="2637" x2="293" y2="3258"/>
<line x1="926" y1="2637" x2="926" y2="3258"/>
<line x1="1738" y1="2637" x2="1738" y2="3258"/>
</g>
<line x1="926" y1="2563" x2="926" y2="2637" stroke="#9ed690" stroke-width="2"/>
<line x1="1738" y1="2563" x2="1738" y2="2637" stroke="#9ed690" stroke-width="2"/>
<use href="#fCL" x="506" y="2579" width="62" height="41"/>
<use href="#fUS" x="1232" y="2579" width="62" height="41"/>
<use href="#fMX" x="1931" y="2579" width="62" height="41"/>
<g font-size="46" fill="#fff">
<text x="579" y="2617" textLength="126" lengthAdjust="spacingAndGlyphs">칠레산</text>
<text x="1305" y="2617" textLength="124" lengthAdjust="spacingAndGlyphs">미국산</text>
<text x="2002" y="2617" textLength="170" lengthAdjust="spacingAndGlyphs">멕시코산</text>
</g>
<text x="130" y="2704" font-size="40" class="b" fill="#4caf3f" textLength="140" lengthAdjust="spacingAndGlyphs">평균단가</text>
<text x="131" y="3013" font-size="40" class="b" fill="#4caf3f" textLength="139" lengthAdjust="spacingAndGlyphs">주요품종</text>
<g font-size="53" fill="#4caf3f">
<text x="445" y="2707" textLength="329" lengthAdjust="spacingAndGlyphs">0.97USD/100g</text>
<text x="1174" y="2707" textLength="316" lengthAdjust="spacingAndGlyphs">0.81USD/100g</text>
<text x="1891" y="2707" textLength="325" lengthAdjust="spacingAndGlyphs">1.08 USD/100g</text>
</g>
<g font-size="44" fill="#4caf3f">
<text x="391" y="2834" textLength="434" lengthAdjust="spacingAndGlyphs">씨가 없는 적포도가 주로</text>
<text x="350" y="2897" textLength="518" lengthAdjust="spacingAndGlyphs">판매되며, 아시아권에서 주로</text>
<text x="352" y="2959" textLength="513" lengthAdjust="spacingAndGlyphs">섭취하는 거봉 포도가 판매됨</text>
<text x="1020" y="2801" textLength="619" lengthAdjust="spacingAndGlyphs">•씨가 없는 청포도 및 적포도가 주로</text>
<text x="988" y="2864" textLength="687" lengthAdjust="spacingAndGlyphs">판매되며, USDA 유기농 인증을 취득한</text>
<text x="1207" y="2926" textLength="247" lengthAdjust="spacingAndGlyphs">제품이 대부분</text>
<text x="960" y="2988" textLength="742" lengthAdjust="spacingAndGlyphs">•주요 품종은 톰슨시들리스, 어텀킹, 콩코드 등</text>
<text x="1780" y="2801" textLength="551" lengthAdjust="spacingAndGlyphs">•씨가 없고 껍질이 얇은 청포도,</text>
<text x="1813" y="2864" textLength="485" lengthAdjust="spacingAndGlyphs">적포도, 흑포도가 모두 판매</text>
<text x="1786" y="2926" textLength="540" lengthAdjust="spacingAndGlyphs">•USDA 유기농 인증을 취득한</text>
<text x="1885" y="2988" textLength="342" lengthAdjust="spacingAndGlyphs">포도가 다수 판매됨</text>
</g>

<!-- product images -->
<g>
<rect x="367" y="3015" width="241" height="200" rx="14" fill="url(#pDark)"/>
<rect x="367" y="3015" width="241" height="14" rx="7" fill="#d8d8d8" opacity="0.7"/>
<rect x="432" y="3078" width="126" height="85" fill="#2c4a2a"/>
<rect x="432" y="3078" width="126" height="10" fill="#d9322c"/>
<rect x="440" y="3110" width="110" height="22" fill="#b89a3a"/>
<rect x="505" y="3145" width="53" height="20" fill="#fff"/>

<rect x="626" y="3014" width="216" height="198" rx="14" fill="url(#pBlue)"/>
<rect x="626" y="3014" width="216" height="14" rx="7" fill="#e0e0e0" opacity="0.7"/>
<path d="M740,3060 Q790,3040 831,3044 L831,3170 L740,3170 Z" fill="#2d2a5e"/>
<rect x="796" y="3148" width="31" height="22" fill="#fff"/>
<rect x="626" y="3180" width="216" height="32" fill="#bdbdc4" opacity="0.6"/>

<rect x="979" y="3023" width="254" height="192" rx="12" fill="url(#pGreen)"/>
<rect x="1029" y="3083" width="142" height="82" rx="4" fill="#fff"/>
<rect x="1034" y="3088" width="22" height="26" fill="#333"/>
<rect x="1130" y="3090" width="30" height="30" fill="#4bb0d8" opacity="0.8"/>

<rect x="1240" y="3023" width="191" height="192" fill="#f3f3f3"/>
<rect x="1290" y="3035" width="70" height="22" rx="8" fill="#fff"/>
<path d="M1242,3085 Q1290,3060 1330,3080 Q1380,3090 1431,3120 L1431,3190 Q1380,3205 1340,3190 Q1290,3200 1245,3160 Z" fill="url(#pBag)"/>

<rect x="1431" y="3023" width="254" height="192" rx="12" fill="url(#pPink)"/>
<rect x="1497" y="3032" width="112" height="118" fill="#e0429a"/>
<rect x="1502" y="3045" width="102" height="60" fill="#5fb8e0"/>
<circle cx="1553" cy="3080" r="26" fill="#ffd21e"/>
<rect x="1580" y="3120" width="26" height="22" fill="#fff"/>
<rect x="1431" y="3152" width="254" height="60" fill="#5a3a4a" opacity="0.55"/>

<rect x="1816" y="3023" width="252" height="192" rx="12" fill="url(#pRed)"/>
<rect x="1880" y="3093" width="121" height="84" rx="4" fill="#e8393a"/>
<rect x="1883" y="3098" width="18" height="40" fill="#f0a020"/>
<rect x="1950" y="3145" width="45" height="28" fill="#fff"/>

<rect x="2070" y="3023" width="228" height="192" rx="12" fill="url(#pPale)"/>
<rect x="2136" y="3088" width="108" height="79" rx="4" fill="#2e8a3e"/>
<rect x="2139" y="3093" width="18" height="36" fill="#f0a020"/>
<rect x="2198" y="3135" width="42" height="28" fill="#fff"/>
</g>

<line x1="108" y1="3295" x2="2372" y2="3295" stroke="#c4c4c4" stroke-width="3" stroke-dasharray="3 5"/>
<text x="2074" y="3350" font-size="36" fill="#8a8a8a" textLength="297" lengthAdjust="spacingAndGlyphs">주:  2025년 7월 기준</text>
<text x="1333" y="3392" font-size="36" fill="#8a8a8a" textLength="1038" lengthAdjust="spacingAndGlyphs">출처: 미국 온라인 소매 유통채널Amazon, Walmart, Instacart, Saywee</text>
</svg>
</body></html>
